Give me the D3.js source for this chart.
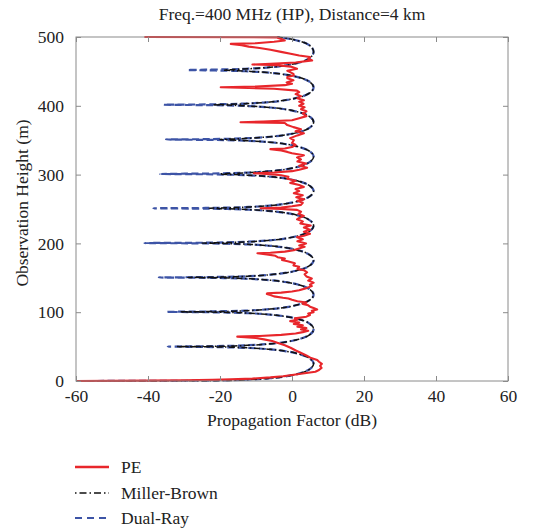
<!DOCTYPE html>
<html><head><meta charset="utf-8">
<script src="https://cdn.jsdelivr.net/npm/d3@7"></script>
<style>
body{margin:0;background:#fff;}
svg text{font-family:"Liberation Serif","Times New Roman",serif !important;fill:#222;}
</style></head>
<body><svg id="chart" width="544" height="531"></svg>
<script>
const titleText = "Freq.=400 MHz (HP), Distance=4 km";
const xLabel = "Propagation Factor (dB)";
const yLabel = "Observation Height (m)";
const xTicks = [-60, -40, -20, 0, 20, 40, 60];
const yTicks = [0, 100, 200, 300, 400, 500];
const seriesNames = ["PE", "Miller-Brown", "Dual-Ray"];

// model heights (m), shared by Dual-Ray and Miller-Brown
const modelHeights = [
  0, 0.1, 0.25, 0.5, 1, 2, 4, 7, 11, 16, 25, 34, 39, 43, 46, 48, 49, 49.5,
  50, 50.5, 51, 52, 54, 57, 61, 66, 75.25, 84.5, 89.5, 93.5, 96.5, 98.5, 99.5, 100,
  100.5, 101, 101.5, 102.5, 104.5, 107.5, 111.5, 116.5, 125.5, 134.5, 139.5, 143.5, 146.5, 148.5, 149.5, 150,
  150.5, 151, 151.5, 152.5, 154.5, 157.5, 161.5, 166.5, 175.5, 184.5, 189.5, 193.5, 196.5, 198.5, 199.5, 200,
  200.5, 201, 201.5, 202.5, 204.5, 207.5, 211.5, 216.5, 225.75, 235, 240, 244, 247, 249, 250, 250.5,
  251, 251.5, 252, 253, 255, 258, 262, 267, 276, 285, 290, 294, 297, 299, 300, 300.5,
  301, 301.5, 302, 303, 305, 308, 312, 317, 326, 335, 340, 344, 347, 349, 350, 350.5,
  351, 351.5, 352, 353, 355, 358, 362, 367, 376.25, 385.5, 390.5, 394.5, 397.5, 399.5, 400.5, 401,
  401.5, 402, 402.5, 403.5, 405.5, 408.5, 412.5, 417.5, 426.75, 436, 441, 445, 448, 450, 451, 451.5,
  452, 452.5, 453, 454, 456, 459, 463, 468, 478.5, 489, 494, 498, 500
];
const dualRay = [
  -60, -44, -36, -24, -18, -12, -6.1, -1.4, 2.1, 4.55, 6, 4.55, 2.1, -1.4, -6.1, -12, -18, -24,
  -34.5, -24, -18, -12, -6.1, -1.4, 2.1, 4.55, 6, 4.55, 2.1, -1.4, -6.1, -12, -18, -24,
  -34.6, -24, -18, -12, -6.1, -1.4, 2.1, 4.55, 6, 4.55, 2.1, -1.4, -6.1, -12, -18, -24,
  -37, -24, -18, -12, -6.1, -1.4, 2.1, 4.55, 6, 4.55, 2.1, -1.4, -6.1, -12, -18, -24,
  -41, -24, -18, -12, -6.1, -1.4, 2.1, 4.55, 6, 4.55, 2.1, -1.4, -6.1, -12, -18, -24,
  -38.5, -24, -18, -12, -6.1, -1.4, 2.1, 4.55, 6, 4.55, 2.1, -1.4, -6.1, -12, -18, -24,
  -36.6, -24, -18, -12, -6.1, -1.4, 2.1, 4.55, 6, 4.55, 2.1, -1.4, -6.1, -12, -18, -24,
  -35, -24, -18, -12, -6.1, -1.4, 2.1, 4.55, 6, 4.55, 2.1, -1.4, -6.1, -12, -18, -24,
  -35.6, -24, -18, -12, -6.1, -1.4, 2.1, 4.55, 6, 4.55, 2.1, -1.4, -6.1, -12, -18, -24,
  -29, -24, -18, -12, -6.1, -1.4, 2.1, 4.55, 6, 4.55, 2.1, -1.4, -4.2
];
const millerBrown = [
  -60, -42, -33, -21, -16, -11.5, -6.1, -1.4, 2.1, 4.55, 6, 4.55, 2.1, -1.4, -6.1, -11.5, -16, -20,
  -32, -20, -16, -11.5, -6.1, -1.4, 2.1, 4.55, 6, 4.55, 2.1, -1.4, -6.1, -11.5, -16, -20,
  -31, -20, -16, -11.5, -6.1, -1.4, 2.1, 4.55, 6, 4.55, 2.1, -1.4, -6.1, -11.5, -16, -20,
  -29, -20, -16, -11.5, -6.1, -1.4, 2.1, 4.55, 6, 4.55, 2.1, -1.4, -6.1, -11.5, -16, -20,
  -25, -20, -16, -11.5, -6.1, -1.4, 2.1, 4.55, 6, 4.55, 2.1, -1.4, -6.1, -11.5, -16, -20,
  -23, -20, -16, -11.5, -6.1, -1.4, 2.1, 4.55, 6, 4.55, 2.1, -1.4, -6.1, -11.5, -16, -20,
  -20, -18, -15, -11.5, -6.1, -1.4, 2.1, 4.55, 6, 4.55, 2.1, -1.4, -6.1, -11.5, -15, -18,
  -20, -18, -15, -11.5, -6.1, -1.4, 2.1, 4.55, 6, 4.55, 2.1, -1.4, -6.1, -11.5, -15, -18,
  -22, -19, -15, -11.5, -6.1, -1.4, 2.1, 4.55, 6, 4.55, 2.1, -1.4, -6.1, -11.5, -15, -18,
  -19, -17, -15, -11.5, -6.1, -1.4, 2.1, 4.55, 6, 4.55, 2.1, -1.4, -4.2
];

// PE (parabolic equation) heights (m) and values (dB)
const peHeights = [
  0, 0.5, 1, 1.7, 2.4, 3.5, 5.3, 7, 8.7, 10.5, 12, 13.5, 16, 19, 22, 25, 28, 30.5, 33.9, 37, 41, 44, 48.4,
  52, 55.6, 58, 60.5, 62.5, 64.5, 65.5, 67, 69, 71, 73, 75, 77, 79, 81, 83, 85, 87, 89, 91, 93.5, 96, 98,
  100, 102, 104, 106, 108, 110, 112, 114, 116, 118, 120, 121, 123, 125, 126.5, 127.6, 128.5, 130,
  132, 135, 138, 140, 143, 146, 149, 152, 155, 158, 161, 163, 166, 168, 171, 174, 176, 178, 180, 182, 184, 185.7,
  186.5, 188, 190, 192, 195, 197, 200, 203, 206, 209, 211, 214, 217, 220, 223, 226, 229, 232, 235, 237, 240,
  243, 246, 248.7, 250, 251, 252, 254, 256, 259, 262, 264, 267, 270, 273, 276, 279, 282, 285, 288, 291, 294,
  297, 299, 300.5, 302, 303, 305, 307, 310, 313, 316, 319, 322, 325, 328, 331, 333, 335, 337, 338, 340, 343,
  346, 350, 353, 357, 360, 363, 366, 369, 372, 375, 376, 377, 379, 382, 385, 389, 392, 395, 398, 400, 403,
  406, 408, 411, 414, 417, 420, 422, 424.7, 426, 427, 428, 430, 432, 434, 437, 440, 442, 444, 446.5, 449, 451,
  453.8, 457, 459, 460, 461, 463, 466, 468, 471, 473, 475.6, 478, 481.5, 484, 486, 488, 490, 491, 493, 495,
  497, 499, 499.5, 500
];
const peValues = [
  -60, -40, -30, -22, -17, -11, -6, -2.5, 0, 2.5, 4.5, 6.5, 7.5, 8.2, 7.8, 8.3, 7.5, 7, 5.1, 4, 2.4, 1.2, -0.4,
  -2, -4.1, -5.5, -7.8, -10, -15.2, -9, -3, 1, 3, 4.5, 2.5, 4, 1.5, 3, 0.5, 2, -0.5, 1.5, 0.8, 4, 5, 4.5,
  6, 5.5, 7, 6, 5, 4.5, 3, 4, 1.5, 0, -1, -2.5, -5, -6, -7, -6.9, -3, 0,
  2, 4, 5.5, 5, 6, 4.5, 5.5, 4, 3.5, 4.2, 3.3, 1.5, 2, 0.4, 0.8, -1.2, -2.8, -2, -4, -4.6, -7, -9.6,
  -6, -2, 0.5, 1.5, 3.5, 2, 3.9, 1.5, 3, 1.4, 3.3, 5, 3.3, 5, 3.3, 5.2, 2.3, 3, 1.4, 2, 3.3,
  1.8, 2.5, 1.4, -3, -8.7, -3, 0, 2.5, 3, 1.5, 3.3, 1.2, 3, 0.5, 2, 1, 3.3, 2, -0.5, 1, -1.3,
  -1, -3, -6, -10.6, -5, 0, 2, 4.2, 2, 3.9, 1.5, 2.5, 1.4, 3.3, 0, -1.3, -3, -6, -2, 0, 1,
  0, 0.5, -0.5, 1.5, 3.3, 1, 2.5, 0.4, -1.3, -2, -14.3, -8, 0, 2, 4, 3, 4, 2.5, 3.5, 2, 3.2,
  2, 3.3, 1.5, 2.5, 1, 2, 1.4, -5, -12, -19.8, -10, -2, 0, -1.5, 0.4, -1.3, -1.3, 0.5, 0.4, -0.5, -1.3,
  1.4, -0.4, -4, -11, -6, 1, 5.6, 4.5, 5, 2, -0.4, -2.7, -6, -9, -12, -14, -17, -10, -5, -2,
  -3, -4, -4, -41
];

const svg = d3.select("#chart");
const x = d3.scaleLinear().domain([-60, 60]).range([76, 508]);
const y = d3.scaleLinear().domain([0, 500]).range([381, 37]);
const colors = {pe: "#e8262b", mb: "#111111", dr: "#3d54a6"};
const font = 17.5;
const fam = '"Liberation Serif", "Times New Roman", serif';

svg.append("defs").append("clipPath").attr("id", "clip")
  .append("rect").attr("x", x(-60)).attr("y", y(500) - 2)
  .attr("width", x(60) - x(-60)).attr("height", y(0) - y(500) + 4);

const n1 = Math.min(modelHeights.length, dualRay.length, millerBrown.length);
const n2 = Math.min(peHeights.length, peValues.length);
const dr = modelHeights.slice(0, n1).map((h, i) => ({h, v: dualRay[i]}));
const mb = modelHeights.slice(0, n1).map((h, i) => ({h, v: millerBrown[i]}));
const pe = peHeights.slice(0, n2).map((h, i) => ({h, v: peValues[i]}));

const smooth = d3.line().x(d => x(d.v)).y(d => y(d.h)).curve(d3.curveMonotoneY);
const jag = d3.line().x(d => x(d.v)).y(d => y(d.h));

const g = svg.append("g").attr("clip-path", "url(#clip)");
g.append("path").datum(dr).attr("d", smooth).attr("fill", "none")
  .attr("stroke", colors.dr).attr("stroke-width", 2.2).attr("stroke-dasharray", "7,3.5");
g.append("path").datum(mb).attr("d", smooth).attr("fill", "none")
  .attr("stroke", colors.mb).attr("stroke-width", 1.5).attr("stroke-dasharray", "6,2.5,1.5,2.5");
g.append("path").datum(pe).attr("d", jag).attr("fill", "none")
  .attr("stroke", colors.pe).attr("stroke-width", 2.1).attr("stroke-linejoin", "round");

// axes box and ticks
const axisColor = "#8a8a8a";
svg.append("rect").attr("x", x(-60)).attr("y", y(500))
  .attr("width", x(60) - x(-60)).attr("height", y(0) - y(500))
  .attr("fill", "none").attr("stroke", axisColor).attr("stroke-width", 1);

const fmt = d => String(d);
const axBottom = d3.axisBottom(x).tickValues(xTicks).tickFormat(fmt).tickSizeInner(-5).tickSizeOuter(0).tickPadding(9);
const bAx = svg.append("g").attr("transform", `translate(0,${y(0)})`).call(axBottom);
const axTop = d3.axisTop(x).tickValues(xTicks).tickSizeInner(-5).tickSizeOuter(0).tickFormat("");
const tAx = svg.append("g").attr("transform", `translate(0,${y(500)})`).call(axTop);
const axLeft = d3.axisLeft(y).tickValues(yTicks).tickFormat(fmt).tickSizeInner(-5).tickSizeOuter(0).tickPadding(12);
const lAx = svg.append("g").attr("transform", `translate(${x(-60)},0)`).call(axLeft);
const axRight = d3.axisRight(y).tickValues(yTicks).tickSizeInner(-5).tickSizeOuter(0).tickFormat("");
const rAx = svg.append("g").attr("transform", `translate(${x(60)},0)`).call(axRight);
[bAx, tAx, lAx, rAx].forEach(a => {
  a.attr("font-family", fam).attr("font-size", font);
  a.select(".domain").remove();
  a.selectAll(".tick line").attr("stroke", axisColor);
  a.selectAll("text").attr("font-family", fam).attr("font-size", font).attr("fill", "#222");
});

svg.append("text").attr("x", 292).attr("y", 20).attr("text-anchor", "middle")
  .attr("font-family", fam).attr("font-size", font).text(titleText);
svg.append("text").attr("x", 292).attr("y", 426).attr("text-anchor", "middle")
  .attr("font-family", fam).attr("font-size", font).text(xLabel);
svg.append("text").attr("transform", "translate(28,203) rotate(-90)")
  .attr("text-anchor", "middle").attr("font-family", fam).attr("font-size", font).text(yLabel);

// legend
const legY = [467, 493, 518];
const legStyles = [
  {c: colors.pe, w: 2.5, dash: null},
  {c: colors.mb, w: 1.5, dash: "1.5,3,7,3"},
  {c: colors.dr, w: 1.8, dash: "7,5"}
];
seriesNames.forEach((name, i) => {
  const ln = svg.append("line").attr("x1", 75).attr("x2", 109)
    .attr("y1", legY[i]).attr("y2", legY[i])
    .attr("stroke", legStyles[i].c).attr("stroke-width", legStyles[i].w);
  if (legStyles[i].dash) ln.attr("stroke-dasharray", legStyles[i].dash);
  svg.append("text").attr("x", 121).attr("y", legY[i]).attr("dy", "0.35em")
    .attr("font-family", fam).attr("font-size", font).text(name);
});
</script></body></html>
